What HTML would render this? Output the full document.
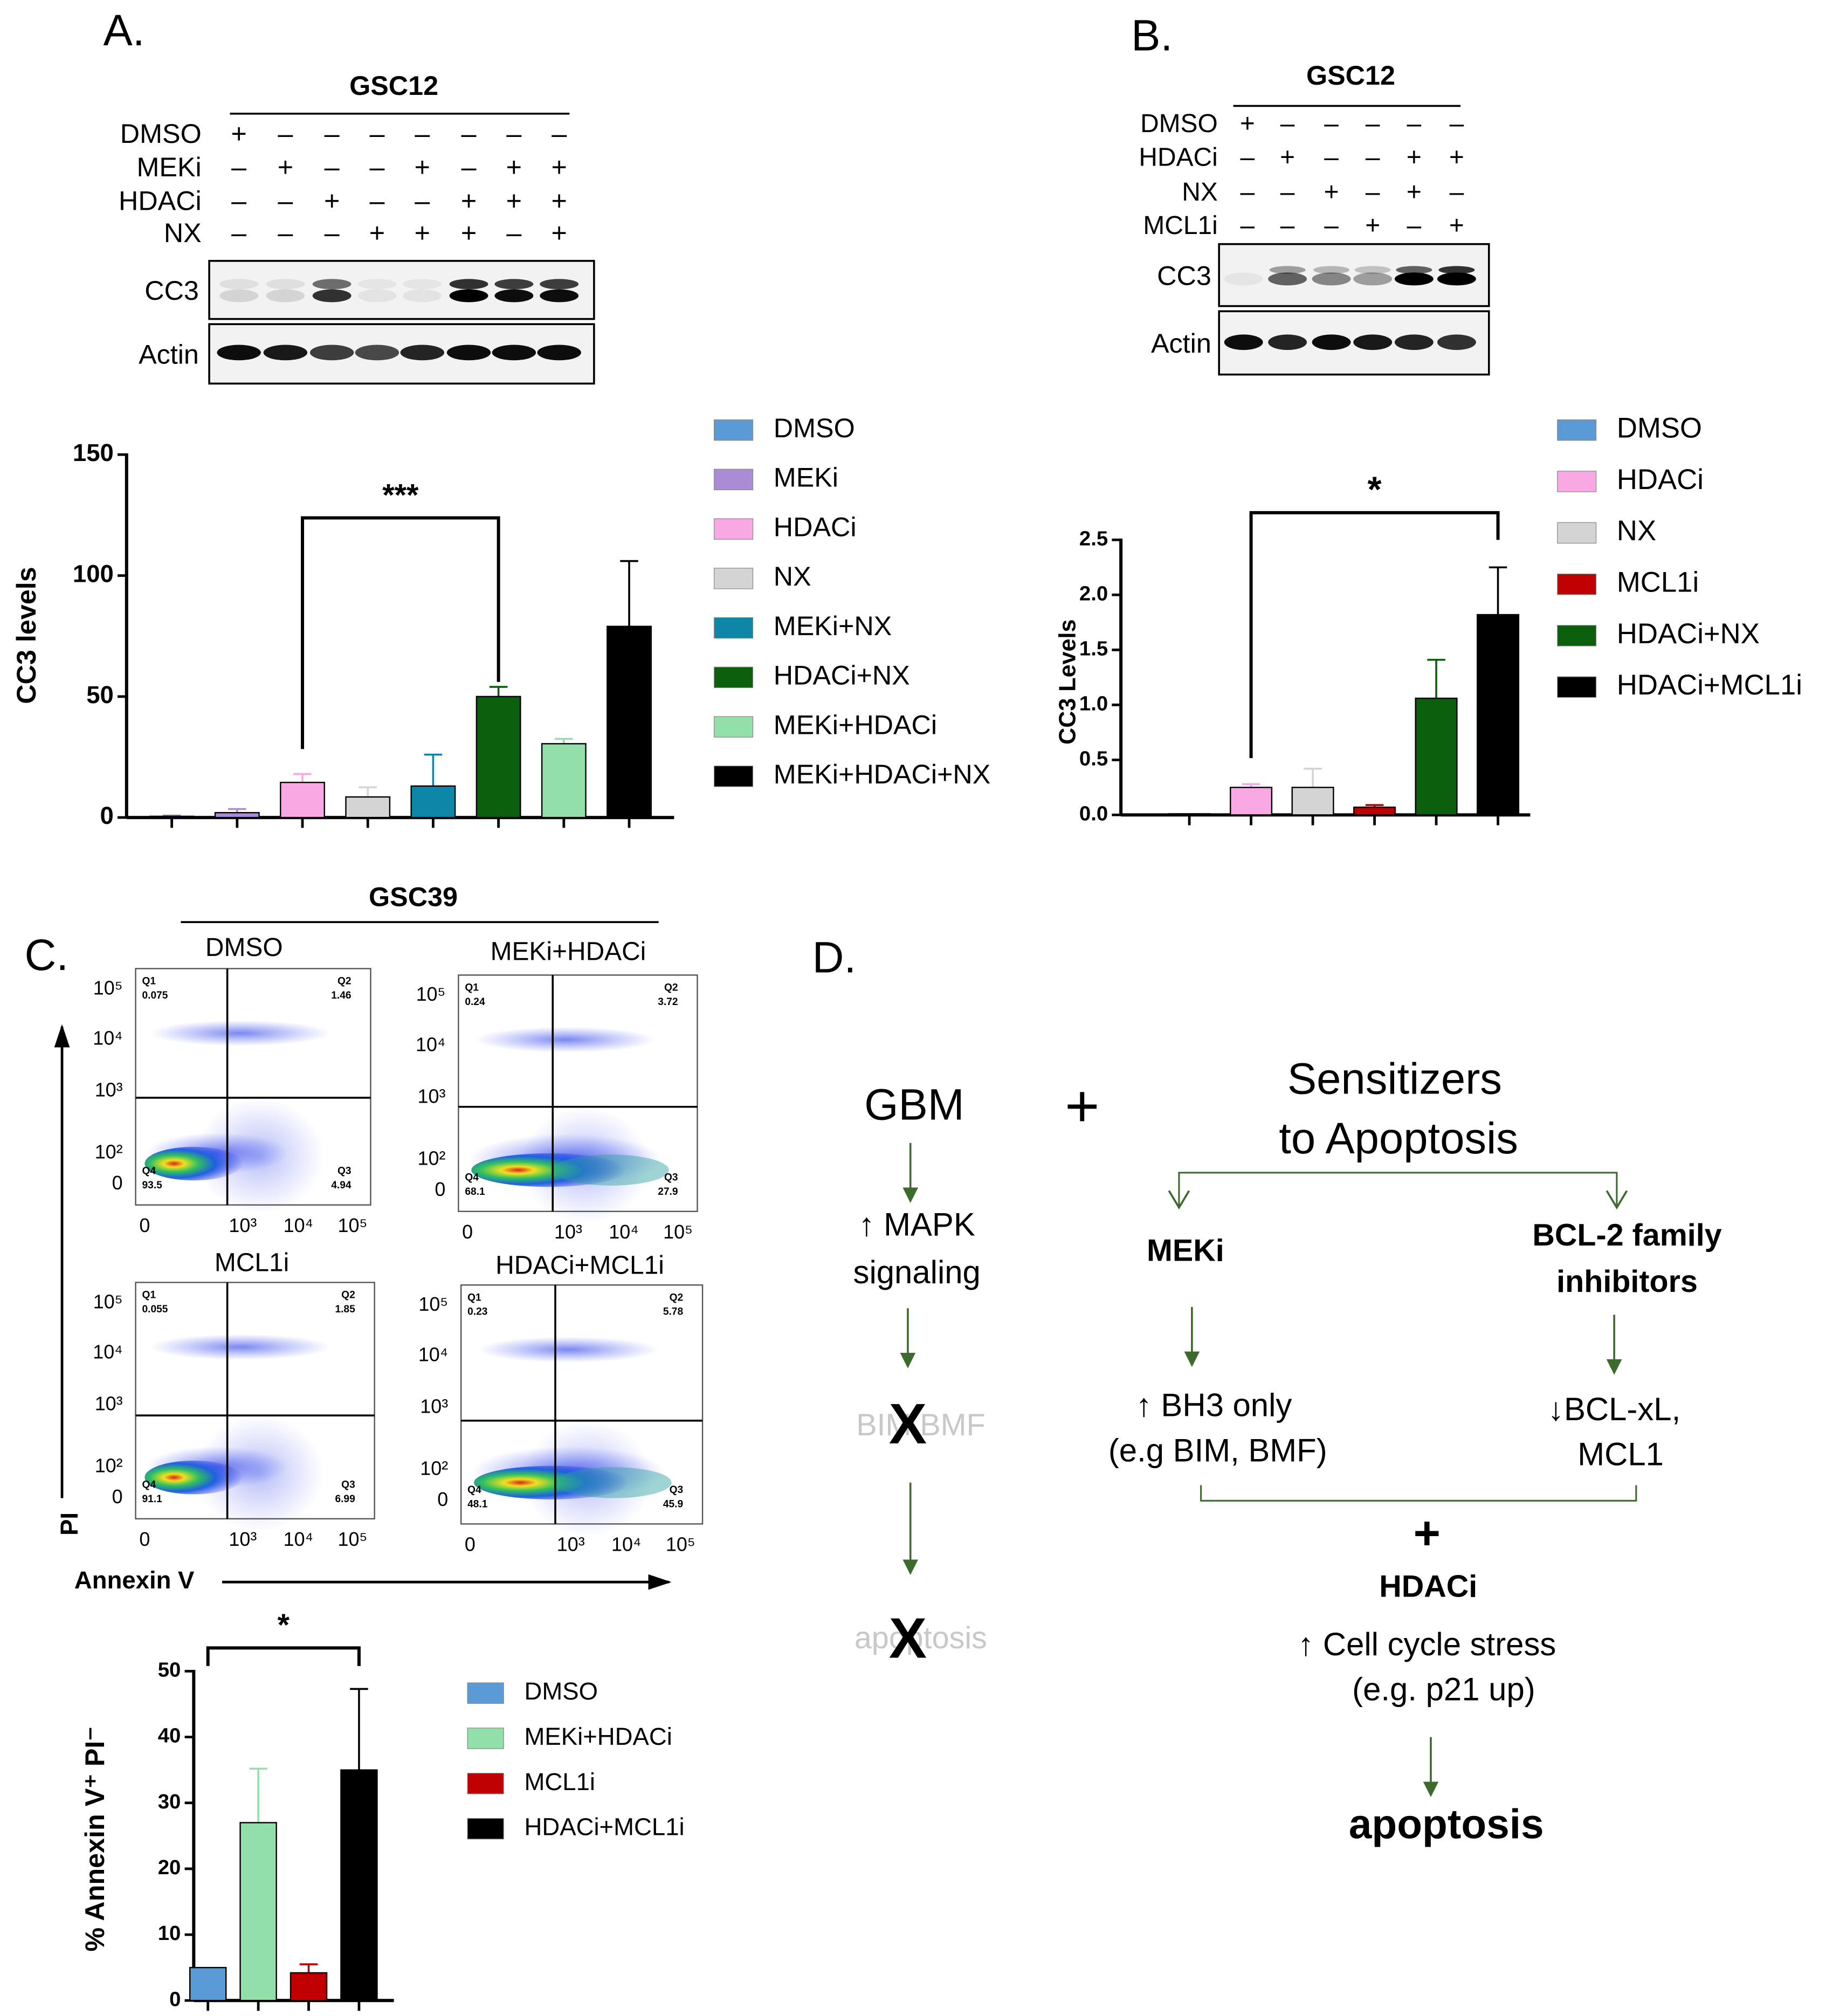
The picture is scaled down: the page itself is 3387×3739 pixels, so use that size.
<!DOCTYPE html>
<html><head><meta charset="utf-8"><style>
html,body{margin:0;padding:0;background:#fff;}
svg{display:block;font-family:"Liberation Sans",sans-serif;}
</style></head><body>
<svg id="fig" width="3387" height="3739" viewBox="0 0 1414 1561" xmlns="http://www.w3.org/2000/svg">
<defs>
<radialGradient id="heat" cx="0.3" cy="0.5" r="0.7">
<stop offset="0" stop-color="#e0201a"/><stop offset="0.15" stop-color="#f0e020"/><stop offset="0.35" stop-color="#30c060"/><stop offset="0.6" stop-color="#2060e0"/><stop offset="1" stop-color="#3030f0" stop-opacity="0"/>
</radialGradient>
<radialGradient id="cool" cx="0.5" cy="0.5" r="0.5">
<stop offset="0" stop-color="#2a40e8" stop-opacity="0.7"/><stop offset="1" stop-color="#4a5af0" stop-opacity="0"/>
</radialGradient>
<marker id="arr" markerWidth="10" markerHeight="10" refX="5" refY="5" orient="auto"><path d="M0,1 L8,5 L0,9 z" fill="#3d6b2e"/></marker>
<marker id="arrK" markerWidth="10" markerHeight="10" refX="8" refY="5" orient="auto"><path d="M0,2 L9,5 L0,8 z" fill="#000"/></marker>
<marker id="open" markerWidth="14" markerHeight="14" refX="7" refY="12" orient="0"><path d="M1,2 L7,12 L13,2" fill="none" stroke="#3d6b2e" stroke-width="1.2"/></marker>
</defs>
<g id="root"></g>
</svg>
<script>
// ---- Chart A data ----
const catsA = ["DMSO","MEKi","HDACi","NX","MEKi+NX","HDACi+NX","MEKi+HDACi","MEKi+HDACi+NX"];
const valsA = [0.5, 2, 14.5, 8.5, 13, 50, 30.5, 79];
const errA = [0.3, 1.5, 3.5, 4, 13, 4, 2, 27];
const ticksA = [0, 50, 100, 150];
// ---- Chart B data ----
const catsB = ["DMSO","HDACi","NX","MCL1i","HDACi+NX","HDACi+MCL1i"];
const valsB = [0.01, 0.25, 0.25, 0.07, 1.06, 1.82];
const errB = [0, 0.03, 0.17, 0.02, 0.35, 0.43];
const ticksB = ["0.0","0.5","1.0","1.5","2.0","2.5"];
// ---- Chart C data ----
const catsC = ["DMSO","MEKi+HDACi","MCL1i","HDACi+MCL1i"];
const valsC = [5, 27, 4.2, 35];
const errC = [0, 8.2, 1.3, 12.3];
const ticksC = [0, 10, 20, 30, 40, 50];

const colA = {"DMSO":"#5b9bd5","MEKi":"#a98bd6","HDACi":"#f9a8e3","NX":"#d4d4d4","MEKi+NX":"#0e86a8","HDACi+NX":"#0b5e0b","MEKi+HDACi":"#93dfaa","MEKi+HDACi+NX":"#000","MCL1i":"#c00000","HDACi+MCL1i":"#000"};

const NS="http://www.w3.org/2000/svg";
const root=document.getElementById('root');
function mk(tag,attrs,parent){const e=document.createElementNS(NS,tag);for(const k in attrs)e.setAttribute(k,attrs[k]);(parent||root).appendChild(e);return e;}
function txt(x,y,s,size,opts,parent){opts=opts||{};const e=mk('text',{x:x,y:y,'font-size':size,'text-anchor':opts.anchor||'middle','font-weight':opts.bold?'bold':'normal',fill:opts.fill||'#000','dominant-baseline':'middle'},parent);if(opts.rot)e.setAttribute('transform','rotate(-90 '+x+' '+y+')');e.textContent=s;return e;}
function line(x1,y1,x2,y2,w,c,parent){return mk('line',{x1:x1,y1:y1,x2:x2,y2:y2,stroke:c||'#000','stroke-width':w||1.5},parent);}

// ---------- panel labels ----------
let t;
t=txt(96,26,"A.",34,{});
t=txt(892,30,"B.",34,{});
t=txt(36,742,"C.",34,{});
t=txt(646,744,"D.",34,{});

// ---------- blot header ----------
function blotHeader(title,tx,ty,lx1,lx2,ly,rows,labX,cols,signs,fs){
  const g=mk('g',{});
  
  
  txt(tx,ty,title,21,{bold:true},g);
  line(lx1,ly,lx2,ly,1.5,'#000',g);
  rows.forEach((r,i)=>{
    txt(labX,r.y,r.name,fs,{anchor:'end'},g);
    signs[i].forEach((s,j)=>{txt(cols[j],r.y,s==='+'?'+':'–',fs,{},g);});
  });
}
blotHeader("GSC12",305,68,178,441,88,[{name:"DMSO",y:105},{name:"MEKi",y:131},{name:"HDACi",y:157},{name:"NX",y:182}],156,[185,221,257,292,327,363,398,433],
 [["+","-","-","-","-","-","-","-"],["-","+","-","-","+","-","+","+"],["-","-","+","-","-","+","+","+"],["-","-","-","+","+","+","-","+"]],21);
blotHeader("GSC12",1046,60,955,1131,82,[{name:"DMSO",y:97},{name:"HDACi",y:123},{name:"NX",y:150},{name:"MCL1i",y:176}],943,[966,997,1031,1063,1095,1128],
 [["+","-","-","-","-","-"],["-","+","-","-","+","+"],["-","-","+","-","+","-"],["-","-","-","+","-","+"]],20);

// ---------- blots ----------
function blot(name,x,y,w,h,lanes,bands,label,labX){
  const g=mk('g',{});
  
  
  mk('rect',{x:x,y:y,width:w,height:h,fill:'#f2f2f2',stroke:'#000','stroke-width':1.5},g);
  bands.forEach(b=>{b.l.forEach((o,i)=>{if(o>0)mk('ellipse',{cx:lanes[i],cy:y+b.dy,rx:b.rx,ry:b.ry,fill:'#000','fill-opacity':o},g);});});
  txt(labX,y+h/2+2,label,21,{anchor:'end'},g);
}
const lanesA=[185,221,257,292,327,363,398,433];
blot('cc3-blot-a',162,202,298,45,lanesA,[{dy:18,rx:15,ry:4,l:[0.08,0.08,0.55,0.05,0.05,0.8,0.75,0.75]},{dy:27,rx:15,ry:5,l:[0.12,0.12,0.8,0.06,0.06,1,0.95,0.95]}],'CC3',154);
blot('actin-blot-a',162,251,298,46,lanesA,[{dy:22,rx:17,ry:6,l:[0.95,0.9,0.75,0.7,0.85,0.95,0.95,0.95]}],'Actin',154);
const lanesB=[963,997,1031,1063,1095,1128];
blot('cc3-blot-b',944,189,209,48,lanesB,[{dy:20,rx:14,ry:3,l:[0,0.35,0.25,0.2,0.6,0.8]},{dy:27,rx:15,ry:5,l:[0.05,0.6,0.45,0.35,1,1]}],'CC3',938);
blot('actin-blot-b',944,241,209,49,lanesB,[{dy:24,rx:15,ry:6,l:[0.95,0.85,0.95,0.9,0.85,0.8]}],'Actin',938);

// ---------- bar chart function ----------
function barChart(o){
  const g=mk('g',{});
  
  
  const y=v=>o.y0-(v-o.vmin)/(o.vmax-o.vmin)*(o.y0-o.y1);
  line(o.ax,o.y1-1,o.ax,o.y0,2.5,'#000',g);
  line(o.ax,o.y0,o.x2,o.y0,2.5,'#000',g);
  o.ticks.forEach(tk=>{const v=parseFloat(tk);line(o.ax-7,y(v),o.ax,y(v),2,'#000',g);const tl=txt(o.ax-10,y(v),String(tk),o.tfs,{anchor:'end',bold:true},g);});
  o.cats.forEach((c,i)=>{
    const cx=o.c0+i*o.step;
    line(cx,o.y0,cx,o.y0+8,2,'#000',g);
    const v=o.vals[i];const top=y(v);
    const col=colA[c];
    if(o.err[i]>0){line(cx,top,cx,y(v+o.err[i]),1.5,col,g);line(cx-7,y(v+o.err[i]),cx+7,y(v+o.err[i]),1.5,col,g);}
    const r=mk('rect',{x:cx-o.bw/2,y:top,width:o.bw,height:Math.max(o.y0-top,0.5),fill:col,stroke:'#000','stroke-width':1},g);
    
    
  });
  const yl=txt(o.ylx,o.yly,o.ylabel,o.yfs,{bold:true,rot:true},g);
  
  
  // significance bracket
  const a=o.sig[0],b=o.sig[1];
  const xa=o.c0+a*o.step,xb=o.c0+b*o.step;
  const p=mk('path',{d:'M'+xa+','+o.sigA+' V'+o.sigTop+' H'+xb+' V'+o.sigB,fill:'none',stroke:'#000','stroke-width':2.5},g);
  
  
  txt((xa+xb)/2,o.sigTop-16,o.sigText,o.sigFs,{bold:true},g);
  // legend
  o.cats.forEach((c,i)=>{
    const ly=o.ly0+i*o.lstep;
    const sw=mk('rect',{x:o.lx,y:ly-8,width:o.lw,height:16,fill:colA[c],stroke:'#888','stroke-width':0.5},g);
    
    
    const lt=txt(o.lx+o.lw+16,ly,c,o.lfs,{anchor:'start'},g);
    
    
  });
}
barChart({name:'chart-a',cats:catsA,vals:valsA,err:errA,ticks:ticksA,vmin:0,vmax:150,ax:98,x2:522,y0:633,y1:352,c0:133,step:50.6,bw:34,tfs:19,
 ylabel:'CC3 levels',ylx:22,yly:492,yfs:21,sig:[2,5],sigA:580,sigTop:401,sigB:528,sigText:'***',sigFs:24,
 lx:553,lw:30,ly0:333,lstep:38.3,lfs:21});
barChart({name:'chart-b',cats:catsB,vals:valsB,err:errB,ticks:ticksB,vmin:0,vmax:2.5,ax:868,x2:1185,y0:631,y1:418,c0:921,step:47.8,bw:32,tfs:16,
 ylabel:'CC3 Levels',ylx:828,yly:528,yfs:18,sig:[1,5],sigA:587,sigTop:397,sigB:418,sigText:'*',sigFs:28,
 lx:1206,lw:30,ly0:333,lstep:39.8,lfs:22});
barChart({name:'chart-c',cats:catsC,vals:valsC,err:errC,ticks:ticksC,vmin:0,vmax:50,ax:150,x2:305,y0:1549,y1:1294,c0:161,step:39,bw:28,tfs:16,
 ylabel:'% Annexin V⁺ PI⁻',ylx:75,yly:1424,yfs:21,sig:[0,3],sigA:1290,sigTop:1276,sigB:1290,sigText:'*',sigFs:24,
 lx:362,lw:28,ly0:1311,lstep:35,lfs:19});

// ---------- flow plots ----------
txt(320,696,"GSC39",21,{bold:true});
line(140,714,510,714,1.5);
const flowQ=[
 {name:'DMSO',x:105,y:750,w:182,h:183,vx:176,hy:850,tx:189,ty:735,q:['0.075','1.46','4.94','93.5'],spread:0.55,dense:0.5},
 {name:'MEKi+HDACi',x:355,y:755,w:185,h:183,vx:428,hy:857,tx:440,ty:738,q:['0.24','3.72','27.9','68.1'],spread:1,dense:0.75},
 {name:'MCL1i',x:105,y:993,w:185,h:183,vx:176,hy:1096,tx:195,ty:979,q:['0.055','1.85','6.99','91.1'],spread:0.55,dense:0.5},
 {name:'HDACi+MCL1i',x:357,y:995,w:187,h:185,vx:430,hy:1100,tx:449,ty:981,q:['0.23','5.78','45.9','48.1'],spread:1,dense:0.85}];
flowQ.forEach(f=>{
  const g=mk('g',{});
  
  
  txt(f.tx,f.ty,f.name,20,{},g);
  mk('rect',{x:f.x,y:f.y,width:f.w,height:f.h,fill:'#fff',stroke:'#555','stroke-width':1},g);
  const by=f.y+f.h-32;
  // scatter clouds
  mk('ellipse',{cx:f.vx+25,cy:f.hy+45,rx:50,ry:45,fill:'url(#cool)',opacity:0.5},g);
  mk('ellipse',{cx:f.vx+10,cy:f.y+50,rx:70,ry:10,fill:'url(#cool)',opacity:0.9},g);
  mk('ellipse',{cx:f.x+18+ (f.spread>0.8?65:45),cy:by-8,rx:f.spread>0.8?75:55,ry:f.spread>0.8?20:16,fill:'url(#cool)'},g);
  mk('ellipse',{cx:f.x+(f.spread>0.8?70:45),cy:by,rx:f.spread>0.8?60:38,ry:13,fill:'url(#heat)'},g);
  if(f.spread>0.8) mk('ellipse',{cx:f.vx+45,cy:by,rx:45,ry:12,fill:'#2aa0a0',opacity:0.45},g);
  line(f.vx,f.y,f.vx,f.y+f.h,1.5,'#000',g);
  line(f.x,f.hy,f.x+f.w,f.hy,1.5,'#000',g);
  const qf=8;
  txt(f.x+5,f.y+10,'Q1',qf,{anchor:'start',bold:true},g);txt(f.x+5,f.y+21,f.q[0],qf,{anchor:'start',bold:true},g);
  txt(f.x+f.w-15,f.y+10,'Q2',qf,{anchor:'end',bold:true},g);txt(f.x+f.w-15,f.y+21,f.q[1],qf,{anchor:'end',bold:true},g);
  txt(f.x+f.w-15,f.y+f.h-26,'Q3',qf,{anchor:'end',bold:true},g);txt(f.x+f.w-15,f.y+f.h-15,f.q[2],qf,{anchor:'end',bold:true},g);
  txt(f.x+5,f.y+f.h-26,'Q4',qf,{anchor:'start',bold:true},g);txt(f.x+5,f.y+f.h-15,f.q[3],qf,{anchor:'start',bold:true},g);
  // y tick labels
  const yl=[['10⁵',f.y+16],['10⁴',f.y+55],['10³',f.y+95],['10²',f.y+143],['0',f.y+167]];
  yl.forEach(a=>txt(f.x-10,a[1],a[0],15,{anchor:'end'},g));
  const xl=[['0',f.x+7],['10³',f.vx+12],['10⁴',f.vx+55],['10⁵',f.vx+97]];
  xl.forEach(a=>txt(a[1],f.y+f.h+17,a[0],15,{},g));
});
line(48,1160,48,795,2,'#000').setAttribute('marker-end','url(#arrK)');
txt(55,1180,"PI",19,{bold:true,rot:true});
txt(104,1225,"Annexin V",19,{bold:true});
line(172,1225,518,1225,2,'#000').setAttribute('marker-end','url(#arrK)');

// ---------- panel D ----------
const D=mk('g',{});


const GR='#3d6b2e';
function garrow(x,y1,y2){line(x,y1,x,y2-5,1.5,GR,D).setAttribute('marker-end','url(#arr)');}
txt(708,858,"GBM",34,{},D);
txt(838,860,"+",46,{},D);
txt(1080,838,"Sensitizers",34,{},D);
txt(1083,884,"to Apoptosis",34,{},D);
garrow(705,885,932);
txt(710,950,"↑ MAPK",25,{},D);
txt(710,987,"signaling",25,{},D);
garrow(703,1013,1060);
txt(713,1105,"BIM BMF",24,{fill:'#c8c8c8'},D);
txt(703,1106,"X",44,{bold:true},D);
garrow(705,1148,1220);
txt(713,1270,"apoptosis",24,{fill:'#c8c8c8'},D);
txt(703,1272,"X",44,{bold:true},D);
mk('path',{d:'M913,935 V908 H1252 V935',fill:'none',stroke:GR,'stroke-width':1.3,'marker-end':'url(#open)','marker-start':'url(#open)'},D);
txt(918,970,"MEKi",24,{bold:true},D);
txt(1260,958,"BCL-2 family",24,{bold:true},D);
txt(1260,994,"inhibitors",24,{bold:true},D);
garrow(923,1012,1059);
garrow(1250,1018,1065);
txt(940,1090,"↑ BH3 only",25,{},D);
txt(943,1125,"(e.g BIM, BMF)",25,{},D);
txt(1250,1093,"↓BCL-xL,",25,{},D);
txt(1255,1128,"MCL1",25,{},D);
mk('path',{d:'M930,1150 V1162 H1267 V1150',fill:'none',stroke:GR,'stroke-width':1.3},D);
txt(1105,1190,"+",36,{bold:true},D);
txt(1106,1230,"HDACi",24,{bold:true},D);
txt(1105,1275,"↑ Cell cycle stress",25,{},D);
txt(1118,1310,"(e.g. p21 up)",25,{},D);
garrow(1108,1345,1392);
txt(1120,1415,"apoptosis",32,{bold:true},D);
</script>
</body></html>
